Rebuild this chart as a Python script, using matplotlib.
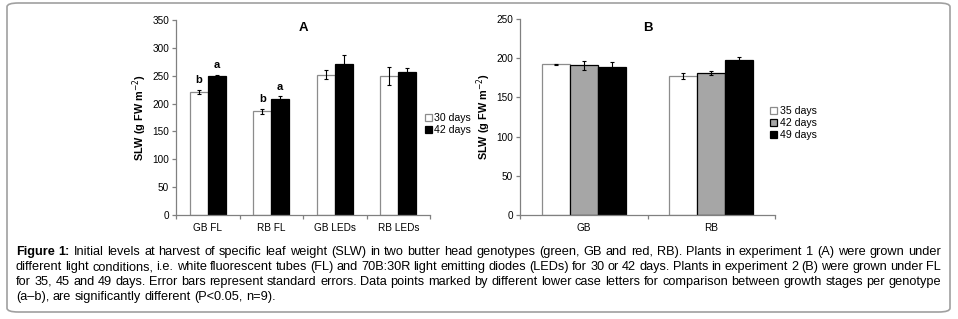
import numpy as np
import matplotlib
matplotlib.use('Agg')
import matplotlib.pyplot as plt
from matplotlib.patches import FancyBboxPatch

plt.rcParams['font.family'] = ['Liberation Sans', 'DejaVu Sans']

# panel A data
cats_a = ['GB FL', 'RB FL', 'GB LEDs', 'RB LEDs']
a_30 = [221, 186, 252, 250]
a_30_err = [4, 5, 8, 16]
a_42 = [249, 209, 271, 257]
a_42_err = [3, 4, 17, 7]
a_letters_30 = ['b', 'b', '', '']
a_letters_42 = ['a', 'a', '', '']

# panel B data
cats_b = ['GB', 'RB']
b_35 = [192, 177]
b_35_err = [1, 4]
b_42 = [191, 181]
b_42_err = [6, 2.5]
b_49 = [189, 198]
b_49_err = [6, 3]

caption = [
    "Initial levels at harvest of specific leaf weight (SLW) in two butter head genotypes (green, GB and red, RB). Plants in experiment 1 (A) were grown under",
    "different light conditions, i.e. white fluorescent tubes (FL) and 70B:30R light emitting diodes (LEDs) for 30 or 42 days. Plants in experiment 2 (B) were grown under FL",
    "for 35, 45 and 49 days. Error bars represent standard errors. Data points marked by different lower case letters for comparison between growth stages per genotype",
    "(a\u2013b), are significantly different (P<0.05, n=9).",
]

W, H = 958, 319
fig = plt.figure(figsize=(W / 100, H / 100), dpi=100)

box = FancyBboxPatch((7 / W, 1 - 312 / H), 943 / W, 309 / H,
                     boxstyle='round,pad=0,rounding_size=0.012',
                     transform=fig.transFigure, fc='none', ec='#a0a0a0', lw=1.2,
                     zorder=-1)
fig.patches.append(box)

axis_col = '#808080'


def style(ax, ncat):
    for s in ['top', 'right']:
        ax.spines[s].set_visible(False)
    for s in ['left', 'bottom']:
        ax.spines[s].set_color(axis_col)
        ax.spines[s].set_linewidth(0.9)
    ax.set_xlim(-0.5, ncat - 0.5)
    ax.set_xticks(np.arange(ncat))
    ax.set_xticks(np.arange(ncat + 1) - 0.5, minor=True)
    ax.tick_params(axis='x', which='major', length=0, labelsize=7.2, pad=6)
    ax.tick_params(axis='x', which='minor', length=3, color=axis_col, width=0.9)
    ax.tick_params(axis='y', length=3, color=axis_col, width=0.9, labelsize=7.2, pad=2)
    ax.set_ylabel('SLW (g FW m$^{-2}$)', fontsize=7.8, fontweight='bold', labelpad=2)


ekw = dict(ecolor='black', elinewidth=0.8, capsize=1.5, capthick=0.8)

# panel A
axA = fig.add_axes([176 / W, 1 - 215 / H, 254 / W, 195 / H])
x = np.arange(len(cats_a))
wa = 0.283
axA.bar(x - wa / 2, a_30, wa, yerr=a_30_err, color='white', edgecolor='#8c8c8c',
        lw=0.9, error_kw=ekw, label='30 days')
axA.bar(x + wa / 2, a_42, wa, yerr=a_42_err, color='black', edgecolor='black',
        lw=0.9, error_kw=ekw, label='42 days')
for i in range(len(cats_a)):
    if a_letters_30[i]:
        axA.text(x[i] - wa / 2, a_30[i] + a_30_err[i] + 8, a_letters_30[i],
                 ha='center', va='bottom', fontsize=8, fontweight='bold')
    if a_letters_42[i]:
        axA.text(x[i] + wa / 2, a_42[i] + a_42_err[i] + 8, a_letters_42[i],
                 ha='center', va='bottom', fontsize=8, fontweight='bold')
axA.set_ylim(0, 350)
axA.set_yticks(np.arange(0, 351, 50))
style(axA, len(cats_a))
axA.set_xticklabels(cats_a)
axA.text(0.5, 0.96, 'A', transform=axA.transAxes, ha='center', va='center',
         fontsize=9.5, fontweight='bold')
axA.legend(loc='center left', bbox_to_anchor=(425 / W, 1 - 124 / H),
           bbox_transform=fig.transFigure, frameon=False, fontsize=7.6,
           handlelength=0.65, handleheight=0.65, handletextpad=0.25,
           labelspacing=0.2, borderaxespad=0, borderpad=0)

# panel B
axB = fig.add_axes([520 / W, 1 - 215 / H, 255 / W, 196 / H])
xb = np.arange(len(cats_b))
wb = 0.22
axB.bar(xb - wb, b_35, wb, yerr=b_35_err, color='white', edgecolor='#8c8c8c',
        lw=0.9, error_kw=ekw, label='35 days')
axB.bar(xb, b_42, wb, yerr=b_42_err, color='#a6a6a6', edgecolor='black',
        lw=0.9, error_kw=ekw, label='42 days')
axB.bar(xb + wb, b_49, wb, yerr=b_49_err, color='black', edgecolor='black',
        lw=0.9, error_kw=ekw, label='49 days')
axB.set_ylim(0, 250)
axB.set_yticks(np.arange(0, 251, 50))
style(axB, len(cats_b))
axB.set_xticklabels(cats_b)
axB.text(0.5, 0.955, 'B', transform=axB.transAxes, ha='center', va='center',
         fontsize=9.5, fontweight='bold')
axB.legend(loc='center left', bbox_to_anchor=(770 / W, 1 - 123 / H),
           bbox_transform=fig.transFigure, frameon=False, fontsize=7.6,
           handlelength=0.65, handleheight=0.65, handletextpad=0.25,
           labelspacing=0.2, borderaxespad=0, borderpad=0)

# caption, justified word by word
cap_font = ['Liberation Sans Narrow', 'Liberation Sans', 'DejaVu Sans']
cap_size = 9.2
left, right = 16, 941
line_y = [255, 270, 285, 300]
renderer = fig.canvas.get_renderer()


def word_width(s, bold=False):
    t = fig.text(0, 0, s, fontsize=cap_size, family=cap_font,
                 fontweight='bold' if bold else 'normal')
    w = t.get_window_extent(renderer).width
    t.remove()
    return w


for li, line in enumerate(caption):
    words = line.split(' ')
    bold = [False] * len(words)
    if li == 0:
        words = ['Figure', '1:'] + words
        bold = [True, True] + bold
    widths = [word_width(w, b) for w, b in zip(words, bold)]
    space = word_width('a a') - word_width('aa')
    if li < len(caption) - 1:
        space = (right - left - sum(widths)) / (len(words) - 1)
    xpos = left
    for w, b, wd in zip(words, bold, widths):
        fig.text(xpos / W, 1 - line_y[li] / H, w, fontsize=cap_size, family=cap_font,
                 fontweight='bold' if b else 'normal', va='baseline', ha='left')
        xpos += wd + space

fig.savefig('out.png', dpi=100)
